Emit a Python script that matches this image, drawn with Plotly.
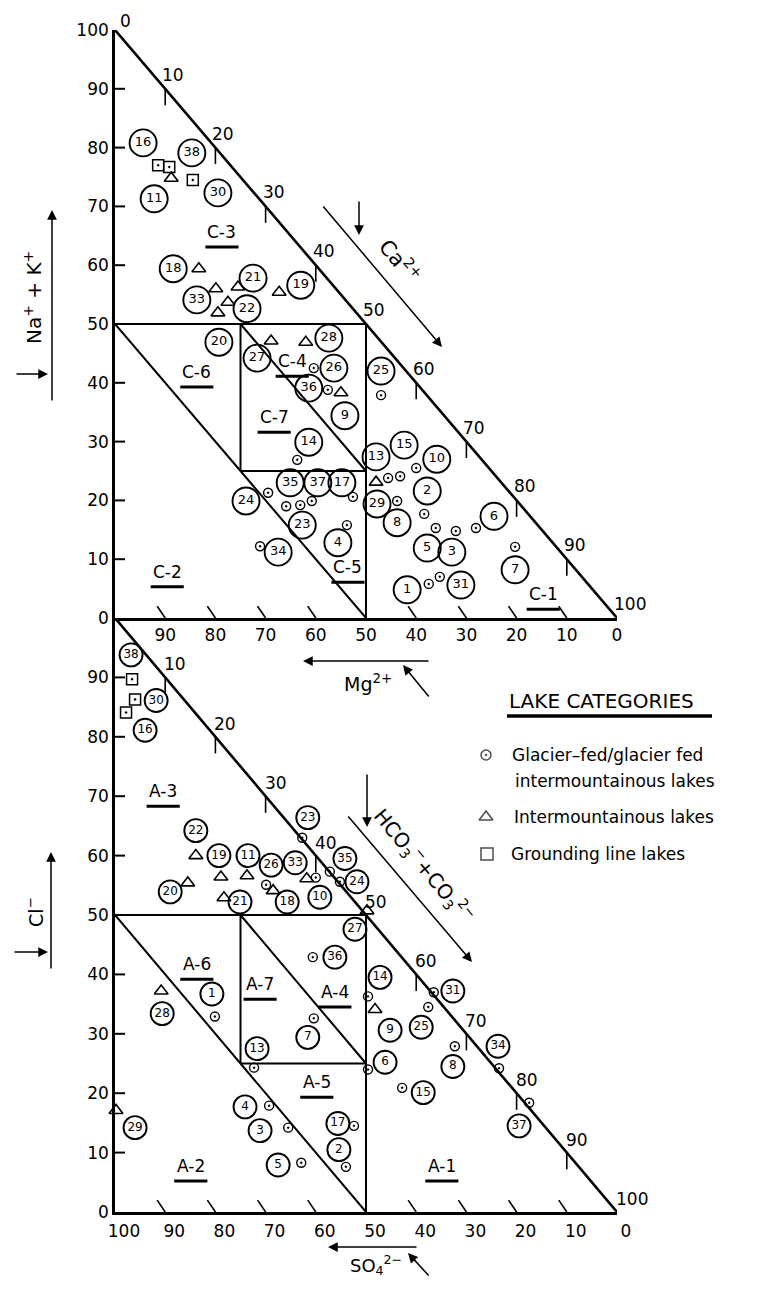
import plotly.graph_objects as go

FONT = "DejaVu Sans"
# the page body keeps its default 8 px margin, so the figure is drawn 8 px in from the page corner
OFF = 8
W, H = 759 - 2 * OFF, 1292 - 2 * OFF

# ---------------- Cation triangle (top): x = Mg2+, y = Na+ + K+ ----------------
cat_labels = ["16", "38", "11", "30", "18", "21", "19", "33", "22", "20", "27", "28", "26", "36", "9", "14",
              "13", "25", "15", "10", "35", "37", "17", "2", "24", "29", "6", "23", "8", "4", "5", "3",
              "34", "7", "1", "31"]
cat_mg = [94.4, 84.7, 92.2, 79.5, 88.4, 72.5, 63.0, 83.7, 73.7, 79.3, 71.7, 57.4, 56.4, 61.4, 54.2, 61.4,
          48.0, 47.0, 42.4, 35.9, 65.1, 59.6, 54.8, 37.8, 73.9, 47.8, 24.5, 62.7, 43.8, 55.6, 37.8, 32.9,
          67.5, 20.3, 41.8, 31.1]
cat_nak = [80.8, 79.1, 71.3, 72.3, 59.4, 57.8, 56.6, 54.1, 52.6, 46.9, 44.2, 47.6, 42.5, 39.1, 34.4, 29.9,
           27.4, 42.0, 29.4, 27.0, 23.0, 23.0, 23.0, 21.6, 19.9, 19.4, 17.3, 15.8, 16.2, 12.8, 11.9, 11.2,
           11.2, 8.2, 4.8, 5.6]

cat_glac_mg = [60.4, 57.6, 47.0, 63.7, 69.5, 65.9, 63.1, 60.8, 52.6, 53.8, 71.1, 45.6, 43.2, 40.0, 43.8,
               38.4, 36.1, 32.1, 28.1, 20.3, 37.5, 35.3]
cat_glac_nak = [42.5, 38.8, 37.9, 26.9, 21.3, 19.0, 19.2, 19.9, 20.6, 15.8, 12.2, 23.8, 24.1, 25.5, 19.9,
                17.7, 15.3, 14.8, 15.3, 12.1, 5.8, 7.0]

cat_int_mg = [88.8, 83.3, 79.9, 75.5, 77.5, 79.5, 67.3, 68.9, 62.0, 55.0, 48.0]
cat_int_nak = [74.8, 59.4, 56.0, 56.3, 53.7, 51.9, 55.4, 47.1, 46.9, 38.3, 23.1]

cat_grd_mg = [91.4, 89.2, 84.5]
cat_grd_nak = [77.0, 76.7, 74.5]

# ---------------- Anion triangle (bottom): x = SO4 2-, y = Cl- ----------------
an_labels = ["38", "30", "16", "22", "19", "11", "26", "33", "23", "35", "24", "20", "21", "18", "10", "27",
             "36", "1", "28", "14", "9", "7", "13", "6", "4", "3", "17", "2", "29", "5", "31", "25", "34",
             "8", "15", "37"]
an_so4 = [96.8, 91.8, 94.0, 83.9, 79.3, 73.5, 68.9, 64.1, 61.6, 54.2, 51.8, 89.0, 75.1, 65.7, 59.2, 52.2,
          56.2, 80.7, 90.6, 47.2, 45.2, 61.6, 71.7, 46.2, 74.1, 71.1, 55.6, 55.4, 96.0, 67.5, 32.7, 39.0,
          23.7, 32.7, 38.6, 19.5]
an_cl = [93.8, 86.1, 81.1, 64.2, 60.0, 60.0, 58.4, 58.8, 66.4, 59.5, 55.6, 53.9, 52.2, 52.2, 53.0, 47.6,
         42.9, 36.7, 33.4, 39.5, 30.6, 29.4, 27.5, 25.2, 17.7, 13.7, 14.9, 10.5, 14.2, 7.9, 37.2, 31.1,
         27.9, 24.5, 20.1, 14.5]

an_glac_so4 = [62.7, 60.0, 57.2, 55.2, 69.9, 60.6, 80.1, 49.6, 60.4, 72.3, 49.6, 69.3, 65.5, 52.4, 54.0,
               62.9, 36.5, 37.6, 32.3, 23.5, 17.5, 42.8]
an_glac_cl = [63.0, 56.3, 57.3, 55.6, 55.1, 42.9, 32.9, 36.3, 32.6, 24.3, 24.0, 17.9, 14.2, 14.5, 7.6,
              8.3, 37.0, 34.5, 27.9, 24.2, 18.4, 20.9]

an_int_so4 = [83.9, 85.5, 78.9, 73.7, 78.3, 68.5, 61.8, 49.8, 90.8, 48.2, 99.8]
an_int_cl = [60.0, 55.4, 56.4, 56.6, 52.9, 54.1, 56.1, 50.7, 37.2, 34.1, 17.1]

an_grd_so4 = [96.6, 96.0, 97.8]
an_grd_cl = [89.7, 86.3, 84.1]

# region labels (text, x, y)
cat_regions = [("C-3", 78.7, 65.5), ("C-6", 83.7, 41.7), ("C-4", 64.7, 43.5), ("C-7", 68.3, 34.0),
               ("C-5", 53.6, 8.5), ("C-2", 89.6, 7.7), ("C-1", 14.7, 3.9)]
an_regions = [("A-3", 90.4, 70.7), ("A-6", 83.7, 41.6), ("A-7", 71.1, 38.2), ("A-4", 56.2, 36.9),
              ("A-5", 59.8, 21.7), ("A-2", 84.9, 7.6), ("A-1", 34.9, 7.6)]

ticks10 = [10, 20, 30, 40, 50, 60, 70, 80, 90]

fig = go.Figure()


def px_x(p):
    return (p - OFF) / W


def px_y(p):
    return 1 - (p - OFF) / H


def add_points(xa, ya, labels, xs, ys, gx, gy, ix, iy, sx, sy, csize, tsize):
    fig.add_trace(go.Scatter(x=gx, y=gy, xaxis=xa, yaxis=ya, mode="markers", cliponaxis=False,
                             marker=dict(symbol="circle-open-dot", size=9, color="black",
                                         line=dict(width=1.4, color="black")), showlegend=False))
    fig.add_trace(go.Scatter(x=ix, y=iy, xaxis=xa, yaxis=ya, mode="markers", cliponaxis=False,
                             marker=dict(symbol="triangle-up-open", size=12, color="black",
                                         line=dict(width=1.6, color="black")), showlegend=False))
    fig.add_trace(go.Scatter(x=sx, y=sy, xaxis=xa, yaxis=ya, mode="markers", cliponaxis=False,
                             marker=dict(symbol="square-open-dot", size=11, color="black",
                                         line=dict(width=1.5, color="black")), showlegend=False))
    fig.add_trace(go.Scatter(x=xs, y=ys, xaxis=xa, yaxis=ya, mode="markers+text", cliponaxis=False,
                             text=labels, textposition="middle center",
                             textfont=dict(family=FONT, size=tsize, color="black"),
                             marker=dict(symbol="circle-open", size=csize, color="black",
                                         line=dict(width=1.9, color="black")), showlegend=False))


add_points("x", "y", cat_labels, cat_mg, cat_nak, cat_glac_mg, cat_glac_nak, cat_int_mg, cat_int_nak,
           cat_grd_mg, cat_grd_nak, 27, 13)
add_points("x2", "y2", an_labels, an_so4, an_cl, an_glac_so4, an_glac_cl, an_int_so4, an_int_cl,
           an_grd_so4, an_grd_cl, 23, 12)

# legend markers in a page-pixel overlay axis
fig.add_trace(go.Scatter(x=[486, 486, 487], y=[755, 817, 854], xaxis="x3", yaxis="y3", mode="markers",
                         cliponaxis=False,
                         marker=dict(symbol=["circle-open-dot", "triangle-up-open", "square-open"],
                                     size=[10, 12, 12], color="black", line=dict(width=1.5, color="black")),
                         showlegend=False))

shapes = []
annotations = []


def line(xref, yref, x0, y0, x1, y1, w=2.0):
    shapes.append(dict(type="line", xref=xref, yref=yref, x0=x0, y0=y0, x1=x1, y1=y1,
                       line=dict(color="black", width=w), layer="above"))


def triangle(xr, yr, hyp_labels, regions, hyp_shift):
    # hypotenuse and inner partitions
    line(xr, yr, 100, 100, 0, 0, 2.6)
    line(xr, yr, 100, 50, 50, 50)
    line(xr, yr, 50, 50, 50, 0)
    line(xr, yr, 75, 50, 75, 25)
    line(xr, yr, 75, 25, 50, 25)
    line(xr, yr, 100, 50, 50, 0)
    line(xr, yr, 75, 50, 50, 25)
    # y ticks (inside), x ticks (slanted), hypotenuse ticks
    for v in ticks10:
        line(xr, yr, 100, v, 98, v, 2)
        if v != 50:
            line(xr, yr, v + 1.6, 2.0, v, 0, 1.6)
        line(xr, yr, 100 - v, 100 - v, 100 - v, 100 - v - 2.8, 1.6)
    for L in hyp_labels:
        xs, ys = hyp_shift
        if L == 0:
            xs, ys = 3, 9
        annotations.append(dict(xref=xr, yref=yr, x=100 - L, y=100 - L, text=str(L), showarrow=False,
                                xanchor="left", yanchor="middle", xshift=xs, yshift=ys,
                                font=dict(family=FONT, size=17, color="black")))
    for t, x, y in regions:
        annotations.append(dict(xref=xr, yref=yr, x=x, y=y, text=t, showarrow=False,
                                xanchor="center", yanchor="middle", yshift=1,
                                font=dict(family=FONT, size=17, color="black")))
        line(xr, yr, x + 3.3, y - 2.4, x - 3.3, y - 2.4, 3)


triangle("x", "y", [0, 10, 20, 30, 40, 50, 60, 70, 80, 90, 100], cat_regions, (-5, 14))
triangle("x2", "y2", [10, 20, 30, 40, 50, 60, 70, 80, 90, 100], an_regions, (-3, 13))


def arrow(hx, hy, ax, ay, w=1.5):
    annotations.append(dict(xref="paper", yref="paper", x=px_x(hx), y=px_y(hy), ax=ax, ay=ay,
                            text="", showarrow=True, arrowhead=2, arrowsize=1.3, arrowwidth=w,
                            arrowcolor="black", standoff=0, startstandoff=0))


def ptext(x, y, t, size=19, angle=0, anchor="center"):
    annotations.append(dict(xref="paper", yref="paper", x=px_x(x), y=px_y(y), text=t, showarrow=False,
                            textangle=angle, xanchor=anchor, yanchor="middle",
                            font=dict(family=FONT, size=size, color="black")))


# axis titles and direction arrows
ptext(33, 298, "Na<sup>+</sup> + K<sup>+</sup>", 20, -90)
arrow(52, 210, 0, 192)
arrow(48, 374, -33, 0)
ptext(35, 912, "Cl<sup>−</sup>", 19, -90)
arrow(51, 852, 0, 118)
arrow(48, 952, -35, 0)

arrow(442, 347, -120, -142)
arrow(359, 235, 0, -35)
ptext(400, 260, "Ca<sup>2+</sup>", 21, 50)

arrow(303, 661, 127, 0)
arrow(403, 665, 27, 33)
ptext(368, 683, "Mg<sup>2+</sup>", 19)

arrow(472, 962, -125, -147)
arrow(367, 827, 0, -54)
ptext(424, 866, "HCO<sub>3</sub><sup>−</sup>+CO<sub>3</sub><sup>2−</sup>", 20, 50)

arrow(328, 1247, 90, 0)
arrow(408, 1253, 22, 24)
ptext(376, 1265, "SO<sub>4</sub><sup>2−</sup>", 18)

# legend
ptext(507, 701, "LAKE CATEGORIES", 20, 0, "left")
shapes.append(dict(type="line", xref="paper", yref="paper", x0=px_x(507), x1=px_x(712),
                   y0=px_y(716), y1=px_y(716), line=dict(color="black", width=3.5)))
ptext(510, 755, "Glacier–fed/glacier fed", 17, 0, "left")
ptext(513, 781, "intermountainous lakes", 17, 0, "left")
ptext(512, 817, "Intermountainous lakes", 17, 0, "left")
ptext(509, 854, "Grounding line lakes", 17, 0, "left")

xdom = [px_x(115), px_x(617)]
common_x = dict(domain=xdom, range=[100, 0], showgrid=False, zeroline=False, showline=True,
                linecolor="black", linewidth=2.6, ticks="", automargin=False,
                tickfont=dict(family=FONT, size=17, color="black"), fixedrange=True)
common_y = dict(range=[0, 100], showgrid=False, zeroline=False, showline=True, linecolor="black",
                linewidth=2.6, ticks="", automargin=False,
                tickfont=dict(family=FONT, size=17, color="black"), fixedrange=True)

fig.update_layout(
    width=W, height=H,
    margin=dict(l=0, r=0, t=0, b=0, pad=0),
    paper_bgcolor="white", plot_bgcolor="rgba(0,0,0,0)",
    showlegend=False,
    font=dict(family=FONT, color="black"),
    xaxis=dict(common_x, anchor="y", tickvals=[90, 80, 70, 60, 50, 40, 30, 20, 10, 0],
               ticktext=["90", "80", "70", "60", "50", "40", "30", "20", "10", "0"]),
    yaxis=dict(common_y, anchor="x", domain=[px_y(618), px_y(30)],
               tickvals=[0, 10, 20, 30, 40, 50, 60, 70, 80, 90, 100],
               ticktext=["0", "10", "20", "30", "40", "50", "60", "70", "80", "90", "100"]),
    xaxis2=dict(common_x, anchor="y2", ticklabelshift=-9, ticklabelstandoff=2,
                tickvals=[100, 90, 80, 70, 60, 50, 40, 30, 20, 10, 0],
                ticktext=["100", "90", "80", "70", "60", "50", "40", "30", "20", "10", "0"]),
    yaxis2=dict(common_y, anchor="x2", domain=[px_y(1212), px_y(618)],
                tickvals=[0, 10, 20, 30, 40, 50, 60, 70, 80, 90],
                ticktext=["0", "10", "20", "30", "40", "50", "60", "70", "80", "90"]),
    xaxis3=dict(domain=[0, 1], range=[OFF, OFF + W], visible=False, anchor="y3", fixedrange=True,
                automargin=False),
    yaxis3=dict(domain=[0, 1], range=[OFF + H, OFF], visible=False, anchor="x3", fixedrange=True,
                automargin=False),
    shapes=shapes,
    annotations=annotations,
)

fig.write_html("out.html")
